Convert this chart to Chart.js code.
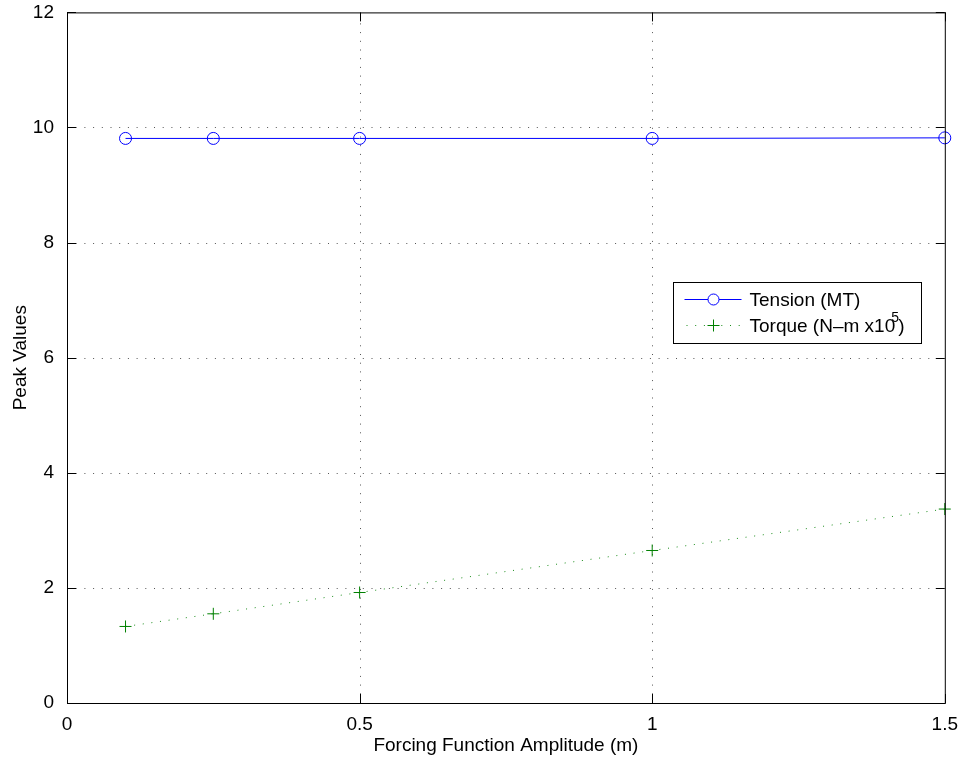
<!DOCTYPE html>
<html>
<head>
<meta charset="utf-8">
<script src="https://cdn.jsdelivr.net/npm/chart.js@4"></script>
<style>
  html, body { margin: 0; padding: 0; background: #fff; overflow: hidden; }
  #wrap { width: 960px; height: 757px; overflow: hidden; position: relative; }
  #chart { position: absolute; left: 0; top: -4px; }
</style>
</head>
<body>
<div id="wrap"><canvas id="chart" width="960" height="761"></canvas></div>
<script>
const amplitudes = [0.1, 0.25, 0.5, 1.0, 1.5];
const tension = [9.81, 9.81, 9.81, 9.81, 9.82];
const torque = [1.33, 1.55, 1.92, 2.65, 3.37];
const xTicks = [0, 0.5, 1, 1.5];
const yTicks = [0, 2, 4, 6, 8, 10, 12];
const datasetLabels = ["Tension (MT)", "Torque (N\u2013m x10^5)"];

const FONT = "'Liberation Sans', Arial, sans-serif";
const FS = 19;

// dotted grid under the data
const matlabGrid = {
  id: "matlabGrid",
  beforeDatasetsDraw(chart) {
    const { ctx, chartArea: a, scales } = chart;
    ctx.save();
    ctx.strokeStyle = "#555";
    ctx.lineWidth = 1;
    ctx.setLineDash([1, 7.7]);
    ctx.beginPath();
    xTicks.slice(1, -1).forEach(v => {
      const x = Math.round(scales.x.getPixelForValue(v)) + 0.5;
      ctx.moveTo(x, a.bottom); ctx.lineTo(x, a.top);
    });
    yTicks.slice(1, -1).forEach(v => {
      const y = Math.round(scales.y.getPixelForValue(v)) + 0.5;
      ctx.moveTo(a.left, y); ctx.lineTo(a.right, y);
    });
    ctx.stroke();
    ctx.restore();
  }
};

// box, inward ticks and legend on top
const matlabBox = {
  id: "matlabBox",
  afterDraw(chart) {
    const { ctx, chartArea: a, scales } = chart;
    ctx.save();
    ctx.strokeStyle = "#000";
    ctx.lineWidth = 1;
    ctx.strokeRect(a.left + 0.5, a.top + 0.5, a.right - a.left, a.bottom - a.top);
    const len = 9;
    ctx.beginPath();
    xTicks.forEach(v => {
      const x = Math.round(scales.x.getPixelForValue(v)) + 0.5;
      ctx.moveTo(x, a.bottom); ctx.lineTo(x, a.bottom - len);
      ctx.moveTo(x, a.top); ctx.lineTo(x, a.top + len);
    });
    yTicks.forEach(v => {
      const y = Math.round(scales.y.getPixelForValue(v)) + 0.5;
      ctx.moveTo(a.left, y); ctx.lineTo(a.left + len, y);
      ctx.moveTo(a.right, y); ctx.lineTo(a.right - len, y);
    });
    ctx.stroke();

    // legend (canvas is shifted up 4px)
    const lx = 673.5, ly = 286.5, lw = 248, lh = 61;
    ctx.fillStyle = "#fff";
    ctx.fillRect(lx, ly, lw, lh);
    ctx.strokeRect(lx, ly, lw, lh);
    ctx.font = FS + "px " + FONT;
    ctx.textBaseline = "middle";

    // Tension row
    let ry = ly + 17;
    ctx.strokeStyle = "#0000ff";
    ctx.beginPath(); ctx.moveTo(lx + 11, ry); ctx.lineTo(lx + 68, ry); ctx.stroke();
    ctx.fillStyle = "#fff";
    ctx.beginPath(); ctx.arc(lx + 40, ry, 5.5, 0, Math.PI * 2); ctx.fill(); ctx.stroke();
    ctx.fillStyle = "#000";
    ctx.fillText(datasetLabels[0], lx + 76, ry + 1);

    // Torque row
    ry = ly + 43;
    ctx.strokeStyle = "#1a8c1a";
    ctx.setLineDash([1, 7.7]);
    ctx.beginPath(); ctx.moveTo(lx + 13, ry); ctx.lineTo(lx + 68, ry); ctx.stroke();
    ctx.setLineDash([]);
    ctx.strokeStyle = "#008000";
    ctx.beginPath();
    ctx.moveTo(lx + 34, ry); ctx.lineTo(lx + 46, ry);
    ctx.moveTo(lx + 40, ry - 6); ctx.lineTo(lx + 40, ry + 6);
    ctx.stroke();
    ctx.fillStyle = "#000";
    const base = "Torque (N\u2013m x10";
    ctx.fillText(base, lx + 76, ry + 1);
    const w = ctx.measureText(base).width;
    ctx.font = "14px " + FONT;
    ctx.fillText("5", lx + 76 + w - 4, ry - 7);
    ctx.font = FS + "px " + FONT;
    ctx.fillText(")", lx + 76 + w + 3, ry + 1);
    ctx.restore();
  }
};

new Chart(document.getElementById("chart"), {
  type: "line",
  data: {
    datasets: [
      {
        label: datasetLabels[0],
        data: amplitudes.map((x, i) => ({ x, y: tension[i] })),
        borderColor: "#0000ff",
        backgroundColor: "transparent",
        borderWidth: 1,
        pointStyle: "circle",
        pointRadius: 6,
        pointBorderColor: "#0000ff",
        pointBackgroundColor: "transparent",
        pointBorderWidth: 1,
        tension: 0,
        clip: false
      },
      {
        label: datasetLabels[1],
        data: amplitudes.map((x, i) => ({ x, y: torque[i] })),
        borderColor: "#1a8c1a",
        backgroundColor: "transparent",
        borderWidth: 1,
        borderDash: [1, 7.7],
        pointStyle: "cross",
        pointRadius: 6,
        pointBorderColor: "#008000",
        pointBorderWidth: 1,
        tension: 0,
        clip: false
      }
    ]
  },
  options: {
    responsive: false,
    animation: false,
    layout: { padding: { top: 0, right: 14, left: 0, bottom: 0 } },
    plugins: { legend: { display: false }, tooltip: { enabled: false } },
    scales: {
      x: {
        type: "linear",
        min: 0, max: 1.5,
        afterBuildTicks: s => { s.ticks = xTicks.map(v => ({ value: v })); },
        afterFit: s => { s.height = 54; },
        grid: { display: false },
        border: { display: false },
        ticks: { color: "#000", font: { family: FONT, size: FS }, padding: 2, maxRotation: 0,
                 callback: v => String(v) },
        title: { display: true, text: "Forcing Function Amplitude (m)", color: "#000",
                 font: { family: FONT, size: FS }, padding: { top: 2, bottom: 0 } }
      },
      y: {
        min: 0, max: 12,
        afterBuildTicks: s => { s.ticks = yTicks.map(v => ({ value: v })); },
        afterFit: s => { s.width = 67; },
        grid: { display: false },
        border: { display: false },
        ticks: { color: "#000", font: { family: FONT, size: FS }, padding: 5 },
        title: { display: true, text: "Peak Values", color: "#000",
                 font: { family: FONT, size: FS }, padding: { top: 9, bottom: 0 } }
      }
    }
  },
  plugins: [matlabGrid, matlabBox]
});
</script>
</body>
</html>
